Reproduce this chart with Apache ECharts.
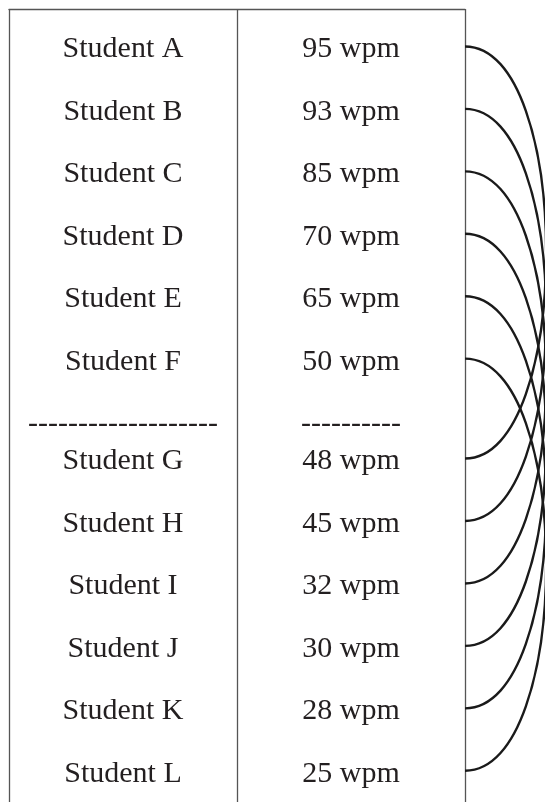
<!DOCTYPE html>
<html>
<head>
<meta charset="utf-8">
<script src="https://cdn.jsdelivr.net/npm/echarts@6/dist/echarts.min.js"></script>
<style>
  html, body { margin: 0; padding: 0; background: #ffffff; }
  #chart { width: 545px; height: 802px; }
</style>
</head>
<body>
<div id="chart"></div>
<script>
// ---- data ----
const students = ['Student A', 'Student B', 'Student C', 'Student D', 'Student E', 'Student F',
                  'Student G', 'Student H', 'Student I', 'Student J', 'Student K', 'Student L'];
const speeds = [95, 93, 85, 70, 65, 50, 48, 45, 32, 30, 28, 25];
const speedUnit = 'wpm';
const separatorLabels = ['-------------------', '----------'];
const splitAfter = 6; // first group: A-F, second group: G-L
const pairs = [[0, 6], [1, 7], [2, 8], [3, 9], [4, 10], [5, 11]];

// ---- layout helpers ----
const GROUP_GAP = 0.6;           // extra space for the separator row (in row units)
const SEPARATOR_POS = splitAfter; // separator row position
function rowPos(i) { return i < splitAfter ? i : i + GROUP_GAP; }

const TEXT_COLOR = '#231f20';
const FONT = '"Liberation Serif", "Times New Roman", serif';
const FONT_SIZE = 30;
const TEXT_DY = 3;

const rowData = students.map((name, i) => [i, rowPos(i)]);
const arcData = pairs.map(p => [rowPos(p[0]), rowPos(p[1])]);

const chart = echarts.init(document.getElementById('chart'), null, { renderer: 'canvas' });

chart.setOption({
  animation: false,
  backgroundColor: '#ffffff',
  grid: { left: 9, right: 80, top: 9, bottom: 0, containLabel: false },
  xAxis: {
    type: 'value', min: 0, max: 2, interval: 1, position: 'top',
    axisLine: { show: true, onZero: false, lineStyle: { color: '#555555', width: 1.3 } },
    axisTick: { show: false },
    axisLabel: { show: false },
    splitLine: { show: true, lineStyle: { color: '#555555', width: 1.3 } }
  },
  yAxis: {
    type: 'value', inverse: true, min: -0.6, max: 12.1,
    show: false,
    axisLine: { onZero: false },
    splitLine: { show: false }
  },
  series: [
    {
      type: 'custom',
      name: 'rows',
      clip: false,
      data: rowData,
      renderItem: function (params, api) {
        const i = api.value(0);
        const pos = api.value(1);
        const p1 = api.coord([0.5, pos]);
        const p2 = api.coord([1.5, pos]);
        const style = { fill: TEXT_COLOR, font: FONT_SIZE + 'px ' + FONT, align: 'center', verticalAlign: 'middle' };
        return {
          type: 'group',
          children: [
            { type: 'text', x: p1[0], y: p1[1] + TEXT_DY, style: Object.assign({ text: students[i] }, style) },
            { type: 'text', x: p2[0], y: p2[1] + TEXT_DY, style: Object.assign({ text: speeds[i] + ' ' + speedUnit }, style) }
          ]
        };
      }
    },
    {
      type: 'custom',
      name: 'separator',
      clip: false,
      data: [[SEPARATOR_POS]],
      renderItem: function (params, api) {
        const pos = api.value(0);
        const p1 = api.coord([0.5, pos]);
        const p2 = api.coord([1.5, pos]);
        const style = { fill: TEXT_COLOR, font: FONT_SIZE + 'px ' + FONT, align: 'center', verticalAlign: 'middle' };
        return {
          type: 'group',
          children: [
            { type: 'text', x: p1[0], y: p1[1] + TEXT_DY, style: Object.assign({ text: separatorLabels[0] }, style) },
            { type: 'text', x: p2[0], y: p2[1] + TEXT_DY, style: Object.assign({ text: separatorLabels[1] }, style) }
          ]
        };
      }
    },
    {
      type: 'custom',
      name: 'links',
      clip: false,
      data: arcData,
      renderItem: function (params, api) {
        const a = api.coord([2, api.value(0)]);
        const b = api.coord([2, api.value(1)]);
        const span = Math.abs(b[1] - a[1]);
        const arm = span * 0.2625;
        return {
          type: 'bezierCurve',
          shape: {
            x1: a[0], y1: a[1],
            cpx1: a[0] + arm, cpy1: a[1],
            cpx2: b[0] + arm, cpy2: b[1],
            x2: b[0], y2: b[1]
          },
          style: { fill: null, stroke: '#1a1a1a', lineWidth: 2.4 }
        };
      }
    }
  ]
});
</script>
</body>
</html>
